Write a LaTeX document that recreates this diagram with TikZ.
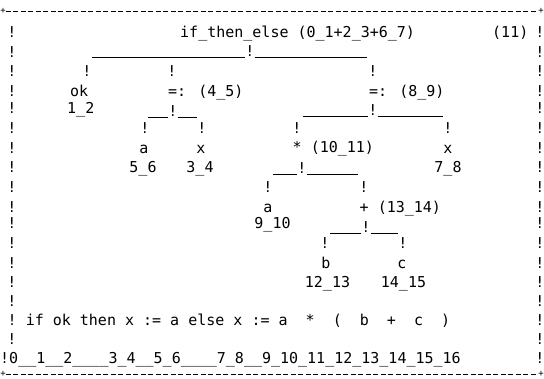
\documentclass[tikz,border=0pt]{standalone}
\usepackage{fontspec}
\newfontfamily\dvmono{DejaVu Sans Mono}
\newcommand\TreeFont{\dvmono\fontsize{15pt}{15pt}\selectfont}
\newcommand\CornerFont{\dvmono\fontsize{9pt}{9pt}\selectfont}
\tikzset{
  txt/.style={font=\TreeFont, inner sep=0pt, anchor=base west},
  ctxt/.style={font=\TreeFont, inner sep=0pt, anchor=base},
  bang/.style={font=\TreeFont, inner sep=0pt, anchor=base},
  corner/.style={font=\CornerFont, inner sep=0pt, anchor=center},
  bar/.style={line width=0.9pt},
  border/.style={line width=0.9pt, dash pattern=on 5pt off 2.5pt},
}
\begin{document}
\begin{tikzpicture}[x=1pt,y=-1pt]
\useasboundingbox (0,0) rectangle (544,378);
% ---- frame
\node[corner] (tl) at (3,11) {+};
\node[corner] (tr) at (541,11) {+};
\node[corner] (bl) at (3,374) {+};
\node[corner] (br) at (541,374) {+};
\draw[border] (tl.east) -- (tr.west);
\draw[border] (bl.east) -- (br.west);
\foreach \yy [count=\i] in {37,57,76,96,113,133,153,172,192,212,228,248,268,287,306,344}
  \node[bang] (L\i) at (12,\yy) {!};
\foreach \yy [count=\i] in {37,57,76,96,113,133,153,172,192,212,228,248,268,287,306,325,344,363}
  \node[bang] (R\i) at (540,\yy) {!};
% ---- root
\node[txt] (root) at (180,37) {if\_then\_else (0\_1+2\_3+6\_7)};
\node[txt] (cnt) at (492,37) {(11)};
\node[bang] (r0) at (250,56) {!};
\coordinate (r0L) at (92,57.5);
\coordinate (r0R) at (367,57.5);
\draw[bar] (r0L) -- (r0L -| r0.west);
\draw[bar] (r0.east |- r0R) -- (r0R);
\node[bang] (c1) at (87,76) {!};
\node[bang] (c2) at (172,76) {!};
\node[bang] (c3) at (373,76) {!};
% ---- level 1
\node[txt] (ok) at (70,96) {ok};
\node[txt] (as1) at (168,96) {=: (4\_5)};
\node[txt] (as2) at (369,96) {=: (8\_9)};
\node[txt] (okr) at (67,113) {1\_2};
\node[bang] (b1) at (173,116) {!};
\coordinate (b1L) at (148,117.5);
\coordinate (b1R) at (197,117.5);
\draw[bar] (b1L) -- (b1L -| b1.west);
\draw[bar] (b1.east |- b1R) -- (b1R);
\node[bang] (b2) at (373,115) {!};
\coordinate (b2L) at (303,116.5);
\coordinate (b2R) at (443,116.5);
\draw[bar] (b2L) -- (b2L -| b2.west);
\draw[bar] (b2.east |- b2R) -- (b2R);
\node[bang] (d1) at (145,133) {!};
\node[bang] (d2) at (202,133) {!};
\node[bang] (d3) at (297,133) {!};
\node[bang] (d4) at (448,133) {!};
% ---- level 2
\node[ctxt] (a1) at (144,153) {a};
\node[ctxt] (x1) at (201,153) {x};
\node[txt] (mul) at (292.5,152) {* (10\_11)};
\node[ctxt] (x2) at (448,153) {x};
\node[ctxt] (a1r) at (143,172) {5\_6};
\node[ctxt] (x1r) at (200,172) {3\_4};
\node[ctxt] (x2r) at (448,172) {7\_8};
\node[bang] (b3) at (302,173) {!};
\coordinate (b3L) at (273,174.5);
\coordinate (b3R) at (358,174.5);
\draw[bar] (b3L) -- (b3L -| b3.west);
\draw[bar] (b3.east |- b3R) -- (b3R);
\node[bang] (e1) at (268,192) {!};
\node[bang] (e2) at (364,192) {!};
% ---- level 3
\node[ctxt] (a2) at (268,212) {a};
\node[txt] (add) at (359.5,212) {+ (13\_14)};
\node[ctxt] (a2r) at (272.5,228) {9\_10};
\node[bang] (b4) at (366,232) {!};
\coordinate (b4L) at (330,233.5);
\coordinate (b4R) at (398,233.5);
\draw[bar] (b4L) -- (b4L -| b4.west);
\draw[bar] (b4.east |- b4R) -- (b4R);
\node[bang] (f1) at (325,248) {!};
\node[bang] (f2) at (403,248) {!};
\node[ctxt] (bb) at (326,268) {b};
\node[ctxt] (cc) at (402,268) {c};
\node[ctxt] (bbr) at (327.5,287) {12\_13};
\node[ctxt] (ccr) at (403.5,287) {14\_15};
% ---- source line (monospaced, as printed)
\node[txt] (src) at (7.5,325) {!~if~ok~then~x~:=~a~else~x~:=~a~~*~~(~~b~~+~~c~~)};
% ---- ruler
\node[txt] (ruler) at (0,363) {!0\_\_1\_\_2\_\_\_\_3\_4\_\_5\_6\_\_\_\_7\_8\_\_9\_10\_11\_12\_13\_14\_15\_16};
\end{tikzpicture}
\end{document}
